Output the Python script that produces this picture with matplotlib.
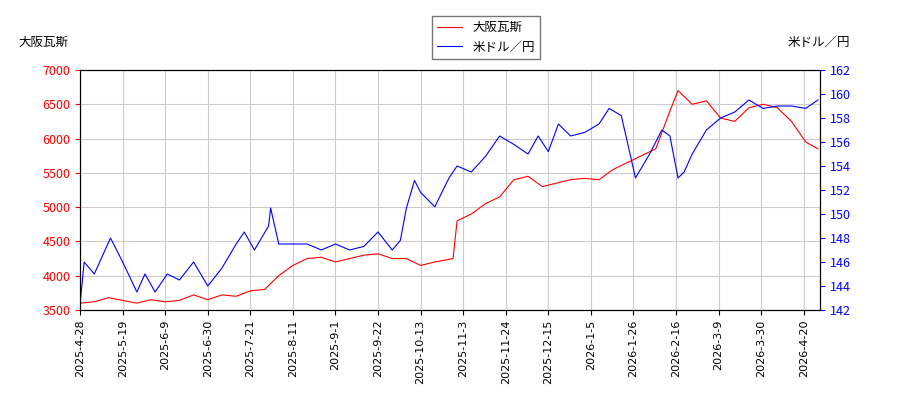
import matplotlib
matplotlib.use("Agg")
import matplotlib.pyplot as plt
import matplotlib.dates as mdates
import pandas as pd

plt.rcParams['font.family'] = ['Noto Sans CJK JP', 'DejaVu Sans']

# 大阪瓦斯 (yen), approx weekly readings
gas_dates = ["2025-04-28", "2025-05-05", "2025-05-12", "2025-05-19", "2025-05-26", "2025-06-02",
             "2025-06-09", "2025-06-16", "2025-06-23", "2025-06-30", "2025-07-07", "2025-07-14",
             "2025-07-21", "2025-07-28", "2025-08-04", "2025-08-11", "2025-08-18", "2025-08-25",
             "2025-09-01", "2025-09-08", "2025-09-15", "2025-09-22", "2025-09-29", "2025-10-06",
             "2025-10-13", "2025-10-20", "2025-10-29", "2025-10-31", "2025-11-07", "2025-11-14",
             "2025-11-21", "2025-11-28", "2025-12-05", "2025-12-12", "2025-12-19", "2025-12-26",
             "2026-01-02", "2026-01-09", "2026-01-16", "2026-01-23", "2026-01-30", "2026-02-06",
             "2026-02-13", "2026-02-17", "2026-02-24", "2026-03-03", "2026-03-10", "2026-03-17",
             "2026-03-24", "2026-03-31", "2026-04-07", "2026-04-14", "2026-04-21", "2026-04-27"]
gas_vals = [3600, 3620, 3680, 3640, 3600, 3650, 3620, 3640, 3720, 3650, 3720, 3700,
            3780, 3800, 4000, 4150, 4250, 4270, 4200, 4250, 4300, 4320, 4250, 4250,
            4150, 4200, 4250, 4800, 4900, 5050, 5150, 5400, 5450, 5300, 5350, 5400,
            5420, 5400, 5550, 5650, 5750, 5850, 6400, 6700, 6500, 6550, 6300, 6250,
            6450, 6500, 6450, 6250, 5950, 5850]

# 米ドル／円
fx_dates = ["2025-04-28", "2025-04-30", "2025-05-05", "2025-05-09", "2025-05-13", "2025-05-19",
            "2025-05-26", "2025-05-30", "2025-06-04", "2025-06-10", "2025-06-16", "2025-06-23",
            "2025-06-30", "2025-07-07", "2025-07-14", "2025-07-18", "2025-07-23", "2025-07-30",
            "2025-07-31", "2025-08-04", "2025-08-11", "2025-08-18", "2025-08-25", "2025-09-01",
            "2025-09-08", "2025-09-15", "2025-09-22", "2025-09-29", "2025-10-03", "2025-10-06",
            "2025-10-10", "2025-10-13", "2025-10-20", "2025-10-27", "2025-10-31", "2025-11-07",
            "2025-11-14", "2025-11-21", "2025-11-28", "2025-12-05", "2025-12-10", "2025-12-15",
            "2025-12-20", "2025-12-26", "2026-01-02", "2026-01-09", "2026-01-14", "2026-01-20",
            "2026-01-23", "2026-01-27", "2026-02-03", "2026-02-09", "2026-02-13", "2026-02-17",
            "2026-02-20", "2026-02-24", "2026-03-03", "2026-03-10", "2026-03-17", "2026-03-24",
            "2026-03-31", "2026-04-07", "2026-04-14", "2026-04-21", "2026-04-27"]
fx_vals = [142.5, 146, 145, 146.5, 148, 146, 143.5, 145, 143.5, 145, 144.5, 146,
           144, 145.5, 147.5, 148.5, 147, 149, 150.5, 147.5, 147.5, 147.5, 147, 147.5,
           147, 147.3, 148.5, 147, 147.8, 150.5, 152.8, 151.8, 150.6, 153, 154, 153.5,
           154.8, 156.5, 155.8, 155, 156.5, 155.2, 157.5, 156.5, 156.8, 157.5, 158.8, 158.2,
           156, 153, 155, 157, 156.5, 153, 153.5, 155, 157, 158, 158.5, 159.5,
           158.8, 159, 159, 158.8, 159.5]

fig = plt.figure(figsize=(9, 4), dpi=100)
ax = fig.add_axes([0.089, 0.225, 0.822, 0.6])
ax2 = ax.twinx()

ax.plot(pd.to_datetime(gas_dates), gas_vals, color="red", lw=0.8, label="大阪瓦斯")
ax2.plot(pd.to_datetime(fx_dates), fx_vals, color="blue", lw=0.8, label="米ドル／円")

ax.set_ylim(3500, 7000)
ax2.set_ylim(142, 162)
ax2.set_yticks(range(142, 163, 2))
ax.set_xlim(pd.Timestamp("2025-04-28"), pd.Timestamp("2026-04-28"))
ticks = pd.date_range("2025-04-28", "2026-04-21", freq="21D")
ax.set_xticks(ticks)
ax.set_xticklabels([t.strftime("%Y-%m-%d").replace("-0", "-") for t in ticks], rotation=90, fontsize=8,
                   family="DejaVu Sans")
ax.tick_params(axis="y", colors="red", labelsize=9)
ax2.tick_params(axis="y", colors="blue", labelsize=9)
ax.grid(True, color="#cccccc", lw=0.8)

fig.text(0.02, 0.885, "大阪瓦斯", fontsize=9)
fig.text(0.945, 0.885, "米ドル／円", fontsize=9, ha="right")

h1, l1 = ax.get_legend_handles_labels()
h2, l2 = ax2.get_legend_handles_labels()
fig.legend(h1 + h2, l1 + l2, loc="upper center", bbox_to_anchor=(0.54, 0.975), fontsize=9,
           fancybox=False, edgecolor="#555555")

fig.savefig("out.png")
